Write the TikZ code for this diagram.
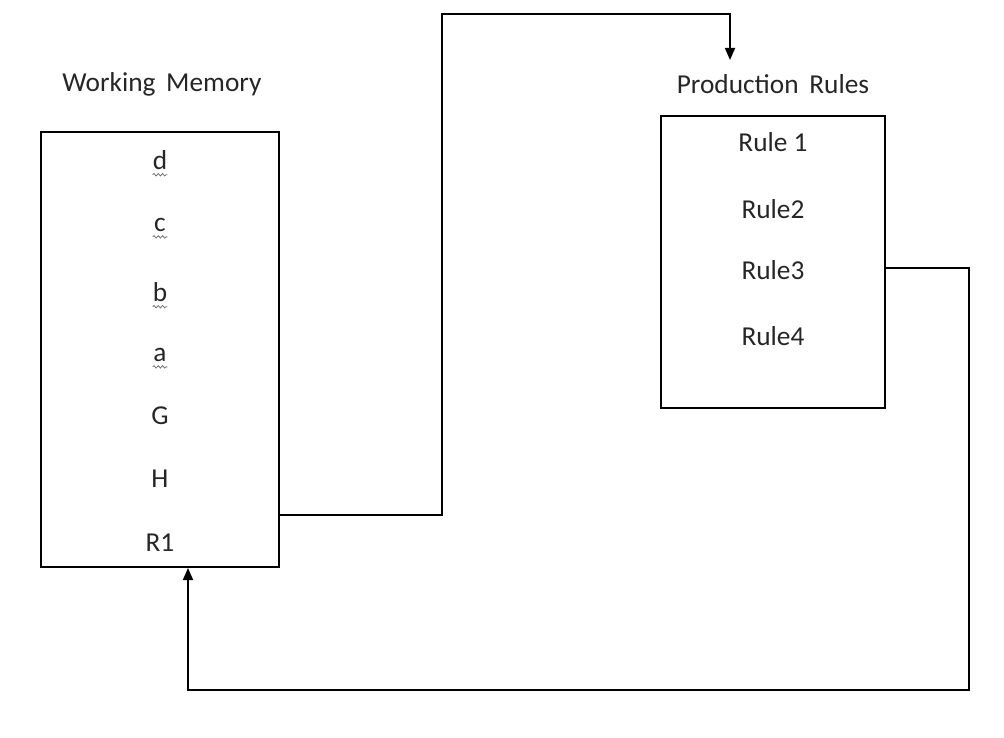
\documentclass[tikz,border=0pt]{standalone}
\usepackage{fontspec}
\setmainfont{Carlito}
\usetikzlibrary{positioning,fit,arrows.meta,decorations.pathmorphing}

\begin{document}
\begin{tikzpicture}[x=0.75pt,y=-0.75pt]
\tikzset{every node/.style={font=\fontsize{20.5}{24}\selectfont,text=black!85,inner sep=2pt}}
\tikzset{box/.style={draw,line width=1.3pt,inner sep=0pt}}
\tikzset{flow/.style={line width=1.3pt,-{Triangle[length=9pt,width=7.5pt]}}}
\tikzset{squiggle/.style={black!55,line width=0.6pt,decorate,decoration={snake,segment length=3.2pt,amplitude=0.9pt}}}
\useasboundingbox (0,0) rectangle (1004,738);
\node (wmlabel) at (162,84) {Working\, Memory};
\node (prlabel) at (773,84) {Production\, Rules};
\node[box, fit={(41,132) (279,567)}] (wm) {};
\node[box, fit={(661,116) (885,408)}] (pr) {};
\node (memd) at (160,160) {d};
\node (memc) at (160,225) {c};
\node (memb) at (160,292) {b};
\node (mema) at (160,355) {a};
\node (memG) at (160,416) {G};
\node (memH) at (160,479) {H};
\node (memR) at (160,543) {R1};
\node (rule1) at (773,142) {Rule 1};
\node (rule2) at (773,209) {Rule2};
\node (rule3) at (773,270) {Rule3};
\node (rule4) at (773,336) {Rule4};
\foreach \n in {memd,memc,memb,mema}
  \draw[squiggle] ([xshift=-5.5pt,yshift=-4pt]\n.base) -- ([xshift=5.5pt,yshift=-4pt]\n.base);
\coordinate (out1) at (wm.east |- 0,515);
\coordinate (in1) at (730,60);
\coordinate (in2) at (188,568);
\draw[flow] (out1) -| (442,14) -| (in1);
\draw[flow] (pr.east |- 0,268) -| (969,690) -| (in2);
\end{tikzpicture}
\end{document}
